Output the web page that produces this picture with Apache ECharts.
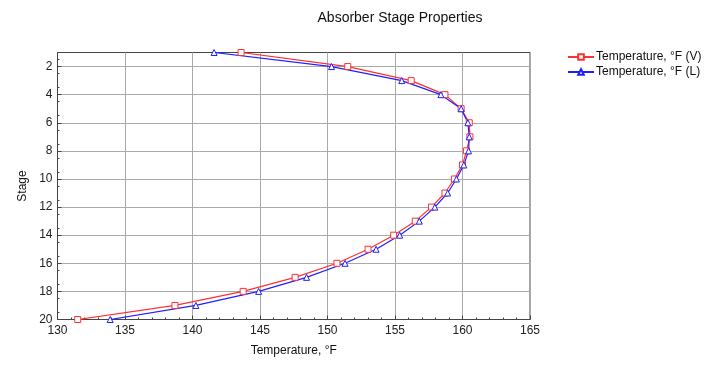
<!DOCTYPE html>
<html><head><meta charset="utf-8">
<script src="https://cdn.jsdelivr.net/npm/echarts@6/dist/echarts.min.js"></script>
<style>html,body{margin:0;padding:0;background:#fff}#c{width:705px;height:365px}</style>
</head><body><div id="c"></div>
<script>
const stages = [1,2,3,4,5,6,7,8,9,10,11,12,13,14,15,16,17,18,19,20];
const tempV = [143.6,151.5,156.2,158.7,159.9,160.5,160.55,160.3,160.0,159.4,158.7,157.7,156.5,154.9,153.0,150.7,147.6,143.75,138.7,131.5];
const tempL = [141.6,150.3,155.5,158.4,159.9,160.4,160.5,160.45,160.1,159.55,158.9,157.95,156.8,155.35,153.6,151.3,148.45,144.9,140.25,133.9];
const xTicks = [130,135,140,145,150,155,160,165];
const yTicks = [2,4,6,8,10,12,14,16,18,20];
const seriesNames = ['Temperature, °F (V)','Temperature, °F (L)'];

const font = 'Liberation Sans, Arial, sans-serif';
const chart = echarts.init(document.getElementById('c'));
chart.setOption({
  animation:false,
  textStyle:{fontFamily:font},
  title:{text:'Absorber Stage Properties',left:395,textAlign:'center',top:6,
    textStyle:{fontFamily:font,fontSize:14,fontWeight:'normal',color:'#111'}},
  legend:{orient:'vertical',left:562,top:46,itemWidth:26,itemHeight:7,itemGap:3,
    textStyle:{fontFamily:font,fontSize:12,color:'#111',padding:[0,0,0,-3]},
    data:seriesNames},
  grid:{left:57.5,right:175,top:52.5,bottom:45.5,show:true,borderColor:'#444',borderWidth:1},
  xAxis:{type:'value',min:xTicks[0],max:xTicks[xTicks.length-1],interval:5,
    name:'Temperature, °F',nameLocation:'middle',nameGap:25,
    nameTextStyle:{fontFamily:font,fontSize:12,color:'#111'},
    axisLine:{lineStyle:{color:'#444'}},
    axisTick:{inside:true,length:4,lineStyle:{color:'#444'}},
    minorTick:{show:true,splitNumber:5,length:2,lineStyle:{color:'#444'}},
    axisLabel:{fontFamily:font,fontSize:12,color:'#222',margin:5},
    splitLine:{show:true,lineStyle:{color:'#aaa'}}},
  yAxis:{type:'value',inverse:true,min:1,max:20,interval:2,
    name:'Stage',nameLocation:'middle',nameGap:29,nameRotate:90,
    nameTextStyle:{fontFamily:font,fontSize:12,color:'#111'},
    axisLine:{show:true,lineStyle:{color:'#444'}},
    axisTick:{show:true,inside:true,length:4,lineStyle:{color:'#444'},customValues:yTicks},
    minorTick:{show:true,splitNumber:4,length:2,lineStyle:{color:'#444'}},
    axisLabel:{fontFamily:font,fontSize:12,color:'#222',margin:5,customValues:yTicks},
    splitLine:{show:true,lineStyle:{color:'#aaa'}}},
  series:[
    {name:seriesNames[0],type:'line',data:stages.map((s,i)=>[tempV[i],s]),
     symbol:'rect',symbolSize:6,showAllSymbol:true,
     itemStyle:{color:'#fff',borderColor:'#ff3030',borderWidth:1},
     lineStyle:{color:'#ff3030',width:1.2},color:'#ff3030'},
    {name:seriesNames[1],type:'line',data:stages.map((s,i)=>[tempL[i],s]),
     symbol:'triangle',symbolSize:6,showAllSymbol:true,
     itemStyle:{color:'#fff',borderColor:'#2020ff',borderWidth:1},
     lineStyle:{color:'#2020ff',width:1.2},color:'#2020ff'}
  ]
});
</script></body></html>
